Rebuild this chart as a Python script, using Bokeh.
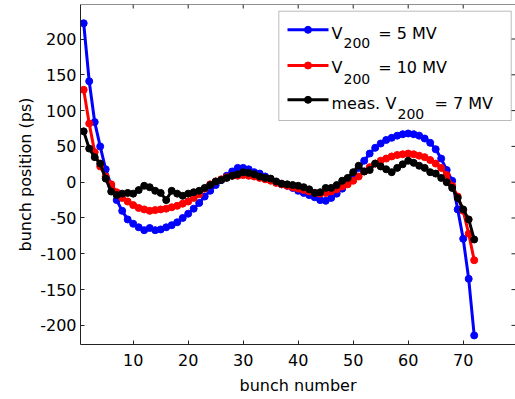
from bokeh.plotting import figure
from bokeh.models import Range1d, BoxAnnotation, Label, FixedTicker, Span
from bokeh.embed import file_html
from bokeh.resources import INLINE

bunch = list(range(1, 73))

v200_5mv = [222, 141, 84, 50, 18, -5, -25, -40, -52, -58, -63, -67, -64, -67, -66, -63,
            -60, -56, -50, -44, -37, -29, -20, -12, -4, 3, 9, 15, 20, 20, 18, 14,
            12, 8, 4, 0, -3, -5, -8, -12, -15, -18, -21, -25, -26, -22, -16, -9,
            0, 10, 20, 30, 40, 48, 54, 59, 62, 65, 67, 68, 67, 65, 61, 55,
            46, 33, 17, 2, -38, -79, -135, -214]

v200_10mv = [129, 82, 42, 22, 8, -3, -14, -22, -27, -32, -36, -38, -40, -39, -38, -37,
             -35, -33, -30, -27, -22, -17, -9, -3, 1, 4, 7, 9, 9, 10, 9, 8,
             6, 4, 2, -1, -3, -5, -7, -9, -11, -13, -15, -16, -15, -13, -10, -6,
             -3, 2, 8, 15, 21, 26, 30, 33, 36, 38, 39, 40, 39, 37, 35, 31,
             26, 20, 10, -5, -20, -40, -72, -109]

meas_7mv = [71, 47, 35, 26, 5, -13, -18, -16, -15, -16, -11, -5, -7, -12, -15, -25,
            -12, -16, -19, -16, -14, -12, -8, -4, 1, 3, 6, 9, 11, 14, 13, 11,
            8, 6, 5, 1, -2, -3, -4, -5, -7, -10, -15, -14, -8, -8, -4, 2,
            6, 14, 23, 15, 17, 26, 22, 18, 14, 20, 25, 30, 27, 23, 20, 14,
            12, 6, 0, -8, -22, -38, -52, -80]

x_ticks = [10, 20, 30, 40, 50, 60, 70]
y_ticks = [-200, -150, -100, -50, 0, 50, 100, 150, 200]

X0, X1 = 0.42, 79.51
Y0, Y1 = -226.7, 248.2
FONT = "DejaVu Sans"
AX = "#222222"

p = figure(width=515, height=399, output_backend="svg", toolbar_location=None,
           x_range=Range1d(X0, X1), y_range=Range1d(Y0, Y1),
           min_border_left=80, min_border_right=0, min_border_top=4,
           min_border_bottom=55, background_fill_color="white",
           border_fill_color="white")
p.grid.visible = False
p.outline_line_color = None

p.xaxis.ticker = FixedTicker(ticks=x_ticks)
p.yaxis.ticker = FixedTicker(ticks=y_ticks)
p.yaxis.major_label_overrides = {t: str(t) for t in y_ticks}
p.xaxis.axis_label = "bunch number"
p.yaxis.axis_label = "bunch position (ps)"
for ax in (p.xaxis[0], p.yaxis[0]):
    ax.major_tick_in = 4
    ax.major_tick_out = 0
    ax.minor_tick_in = 0
    ax.minor_tick_out = 0
    ax.axis_line_color = AX
    ax.major_tick_line_color = AX
    ax.major_label_text_font = FONT
    ax.major_label_text_font_size = "16px"
    ax.major_label_text_color = "black"
    ax.axis_label_text_font = FONT
    ax.axis_label_text_font_size = "16px"
    ax.axis_label_text_font_style = "normal"
    ax.axis_label_text_color = "black"
p.xaxis.major_label_standoff = 9
p.xaxis.axis_label_standoff = 7
p.yaxis.major_label_standoff = 4
p.yaxis.axis_label_standoff = 2

# frame geometry on the page (used for tick lengths and legend placement)
FL, FR, FT, FB = 80, 515, 4, 344
tx = 4 * (X1 - X0) / (FR - FL)
ty = 4 * (Y1 - Y0) / (FB - FT)

# top border line and inward ticks on the top and right edges
p.add_layout(Span(location=Y1, dimension="width", line_color=AX, line_width=1))
p.segment(x0=x_ticks, y0=[Y1] * len(x_ticks), x1=x_ticks, y1=[Y1 - ty] * len(x_ticks),
          line_color=AX, line_width=1)
p.segment(x0=[X1] * len(y_ticks), y0=y_ticks, x1=[X1 - tx] * len(y_ticks), y1=y_ticks,
          line_color=AX, line_width=1)

series = [(v200_5mv, "#0000ff"), (v200_10mv, "#ff0000"), (meas_7mv, "#000000")]
for vals, col in series:
    p.line(bunch, vals, line_color=col, line_width=3, line_join="round")
    p.scatter(bunch, vals, marker="circle", size=7, fill_color=col, line_color=col)

def dx(px):
    return X0 + (px - FL) * (X1 - X0) / (FR - FL)
def dy(py):
    return Y1 - (py - FT) * (Y1 - Y0) / (FB - FT)

p.add_layout(BoxAnnotation(left=dx(278.3), right=dx(510.7), top=dy(10.7), bottom=dy(120),
                           fill_color="white", fill_alpha=1.0, line_color=AX,
                           line_width=1, level="underlay"))

rows = [
    ("#0000ff", 29.3, [("V", 331, 33.3, 16), ("200", 343, 42.7, 14), ("= 5 MV", 377.7, 33.3, 16)]),
    ("#ff0000", 65.0, [("V", 331, 66.7, 16), ("200", 343, 78.3, 14), ("= 10 MV", 377.7, 66.7, 16)]),
    ("#000000", 99.3, [("meas.", 331, 103.3, 16), ("V", 385, 103.3, 16), ("200", 397, 113.3, 14),
                      ("= 7 MV", 434, 103.3, 16)]),
]
for col, ly, texts in rows:
    p.line([dx(287), dx(328)], [dy(ly), dy(ly)], line_color=col, line_width=3)
    p.scatter([dx(307.5)], [dy(ly)], marker="circle", size=7, fill_color=col, line_color=col)
    for t, tx_, ty_, fs in texts:
        p.add_layout(Label(x=dx(tx_), y=dy(ty_), text=t, text_font=FONT,
                           text_font_size=f"{fs}px", text_color="black",
                           text_align="left", text_baseline="alphabetic"))

open("out.html", "w").write(file_html(p, INLINE))
